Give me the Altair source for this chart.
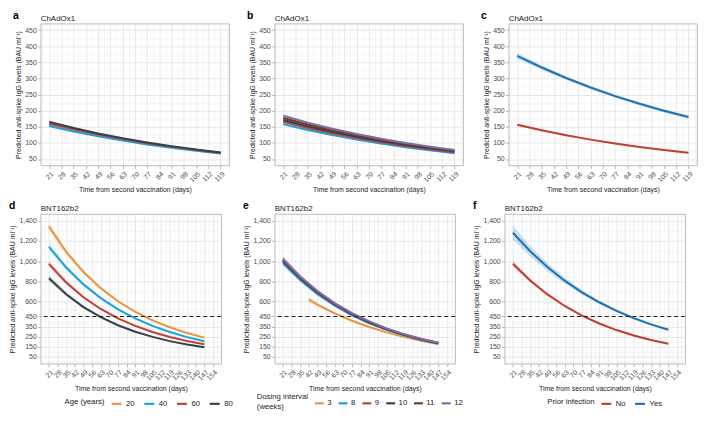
import json
import altair as alt
import pandas as pd

FONT = "Liberation Sans"

# ---------------- data ----------------
days_top = [21, 35, 49, 63, 77, 91, 105, 119]
days_bot = [21, 35, 49, 63, 77, 91, 105, 119, 133, 147]
days_e3 = [42, 49, 63, 77, 91, 105, 119, 133, 147]

x_ticks_top = [21, 28, 35, 42, 49, 56, 63, 70, 77, 84, 91, 98, 105, 112, 119]
x_ticks_bot = [21, 28, 35, 42, 49, 56, 63, 70, 77, 84, 91, 98, 105, 112, 119,
               126, 133, 140, 147, 154]
y_ticks_top = [50, 100, 150, 200, 250, 300, 350, 400, 450]
y_ticks_bot = [50, 150, 250, 350, 450, 600, 800, 1000, 1200, 1400]
threshold = [450]

age_groups = ["20", "40", "60", "80"]
age_colors = ["#E8963F", "#1AA3E0", "#C0413B", "#34434B"]
interval_groups = ["3", "8", "9", "10", "11", "12"]
interval_colors = ["#E8963F", "#1AA3E0", "#C0413B", "#34434B", "#6E4120", "#7B6DAE"]
prior_groups = ["No", "Yes"]
prior_colors = ["#C13E33", "#1D73B6"]

# panel a: ChAdOx1 by age
a_20 = [157, 139.6, 124.1, 110.3, 98.1, 87.2, 77.5, 68.9]
a_40 = [152, 135.2, 120.2, 106.9, 95.1, 84.5, 75.2, 66.9]
a_60 = [160, 141.9, 125.8, 111.6, 98.9, 87.7, 77.8, 69.0]
a_80 = [165, 146.0, 129.2, 114.3, 101.1, 89.4, 79.1, 70.0]
a_ci = [4, 3, 2.5, 2, 2, 2, 2, 2.5]

# panel b: ChAdOx1 by dosing interval
b_8 = [158, 140.1, 124.2, 110.1, 97.6, 86.5, 76.7, 68.0]
b_9 = [165, 146.3, 129.7, 115.0, 102.0, 90.4, 80.1, 71.0]
b_10 = [171, 151.6, 134.4, 119.1, 105.6, 93.6, 83.0, 73.6]
b_11 = [177, 156.9, 139.0, 123.2, 109.2, 96.8, 85.8, 76.0]
b_12 = [184, 162.8, 144.0, 127.4, 112.7, 99.7, 88.2, 78.0]
b_ci = [4, 3, 2.5, 2, 2, 2, 2, 2.5]

# panel c: ChAdOx1 by prior infection
c_no = [156, 138.8, 123.6, 110.0, 97.9, 87.1, 77.5, 69.0]
c_yes = [370, 333.8, 301.2, 271.7, 245.1, 221.2, 199.5, 180.0]
c_no_ci = [3, 2.5, 2, 2, 2, 2, 2, 2]
c_yes_ci = [9, 7, 5.5, 5, 5, 5, 5, 5.5]

# panel d: BNT162b2 by age
d_20 = [1343, 1092.2, 891.8, 731.1, 601.7, 497.1, 412.4, 343.4, 287.1, 241.0]
d_40 = [1142, 936.1, 769.0, 632.9, 521.9, 431.2, 357.0, 296.2, 246.1, 205.0]
d_60 = [972, 787.7, 641.4, 525.0, 431.8, 356.9, 296.4, 247.5, 207.6, 175.0]
d_80 = [830, 670.3, 544.1, 443.8, 363.8, 299.7, 248.1, 206.4, 172.6, 145.0]
d_20_ci = [40, 28, 20, 15, 12, 10, 9, 8, 8, 9]
d_40_ci = [32, 22, 16, 12, 10, 8, 7, 7, 7, 8]
d_60_ci = [28, 19, 14, 11, 9, 7, 6, 6, 6, 7]
d_80_ci = [30, 20, 15, 11, 9, 7, 6, 6, 6, 7]

# panel e: BNT162b2 by dosing interval
e_3 = [618, 568.9, 481.9, 408.2, 345.8, 292.9, 248.1, 210.2, 178.1]
e_8 = [979, 811.6, 672.8, 557.7, 462.3, 383.3, 317.7, 263.4, 218.3, 181.0]
e_9 = [998, 827.6, 686.2, 569.0, 471.8, 391.3, 324.4, 269.0, 223.1, 185.0]
e_10 = [1004, 832.5, 690.3, 572.4, 474.6, 393.5, 326.3, 270.6, 224.4, 186.0]
e_11 = [1012, 839.4, 696.2, 577.5, 479.0, 397.3, 329.5, 273.3, 226.7, 188.0]
e_12 = [1022, 847.7, 703.2, 583.3, 483.8, 401.3, 332.9, 276.1, 229.1, 190.0]
e_3_ci = [25, 18, 12, 9, 7, 6, 6, 6, 7]
e_ci = [30, 20, 14, 10, 8, 7, 6, 6, 6, 7]

# panel f: BNT162b2 by prior infection
f_no = [974, 807.4, 669.3, 554.8, 459.9, 381.2, 316.0, 262.0, 217.2, 180.0]
f_yes = [1281, 1097.6, 940.5, 805.9, 690.5, 591.7, 507.0, 434.4, 372.2, 318.9]
f_no_ci = [30, 20, 14, 11, 9, 8, 7, 7, 7, 8]
f_yes_ci = [70, 52, 38, 28, 22, 18, 15, 13, 12, 12]

Y_TITLE = "Predicted anti-spike IgG levels (BAU ml\u207b\u00b9)"
X_TITLE = "Time from second vaccination (days)"


def build(series):
    rows = []
    for grp, days, vals, ci in series:
        for d, v, c in zip(days, vals, ci):
            rows.append({"day": d, "value": v, "lo": v - c, "hi": v + c, "group": grp})
    return pd.DataFrame(rows)


def minor_of(ticks, lo, hi):
    ext = [2 * ticks[0] - ticks[1]] + ticks + [2 * ticks[-1] - ticks[-2]]
    mids = [(ext[i] + ext[i + 1]) / 2 for i in range(len(ext) - 1)]
    return [m for m in mids if lo <= m <= hi]


def make_axis(ticks, dom, title, fmt, angle):
    test = "indexof(%s, datum.value) >= 0" % json.dumps(ticks)
    vals = sorted(ticks + minor_of(ticks, dom[0], dom[1]))
    return alt.Axis(
        values=vals, title=title, format=fmt, labelAngle=angle,
        labelExpr="%s ? datum.label : ''" % test,
        labelOverlap=False, labelFlush=False,
        gridColor={"condition": {"test": test, "value": "#dedede"}, "value": "#ececec"},
        gridWidth={"condition": {"test": test, "value": 0.7}, "value": 0.5},
        tickOpacity={"condition": {"test": test, "value": 1}, "value": 0},
    )


def panel(df, groups, colors, letter, title, x_ticks, x_dom, y_ticks, y_dom, w, h,
          letter_dx, legend_title=None, legend_x=0, compact=False, thresh=False):
    xenc = alt.X("day:Q", scale=alt.Scale(domain=x_dom, nice=False, zero=False),
                 axis=make_axis(x_ticks, x_dom, X_TITLE, "d", 315))
    yaxis = make_axis(y_ticks, y_dom, Y_TITLE, ",d", 0)
    yscale = alt.Scale(domain=y_dom, nice=False, zero=False)
    if legend_title is not None:
        leg = alt.Legend(title=legend_title, orient="none", direction="horizontal",
                         titleOrient="left", legendX=legend_x, legendY=h + 34,
                         titleAnchor="middle", titleBaseline="middle",
                         symbolSize=81 if compact else 100,
                         columnPadding=2 if compact else 5,
                         labelOffset=2 if compact else 3, titlePadding=5,
                         gridAlign="none", symbolType="stroke", symbolStrokeWidth=2.2)
    else:
        leg = None
    base = alt.Chart(df)
    band = base.mark_area(opacity=0.22).encode(
        x=xenc,
        y=alt.Y("lo:Q", scale=yscale, axis=yaxis),
        y2="hi:Q",
        fill=alt.Fill("group:N", scale=alt.Scale(domain=groups, range=colors),
                      sort=groups, legend=None),
        detail="group:N",
    )
    line = base.mark_line(strokeWidth=2).encode(
        x=xenc,
        y=alt.Y("value:Q", scale=yscale, axis=yaxis),
        color=alt.Color("group:N", scale=alt.Scale(domain=groups, range=colors),
                        sort=groups, legend=leg),
    )
    layers = [band, line]
    if thresh:
        rule = alt.Chart(pd.DataFrame({"t": threshold})).mark_rule(
            color="#222", strokeDash=[4, 3], strokeWidth=1.1
        ).encode(y=alt.Y("t:Q", scale=yscale, axis=yaxis))
        layers.append(rule)
    lab = alt.Chart(pd.DataFrame({"t": [letter]})).mark_text(
        align="left", baseline="alphabetic", fontWeight="bold", fontSize=10.5, font=FONT,
        color="#000"
    ).encode(text="t:N", x=alt.value(letter_dx), y=alt.value(-5))
    ttl = alt.Chart(pd.DataFrame({"t": [title]})).mark_text(
        align="left", baseline="alphabetic", fontSize=8, font=FONT, color="#222"
    ).encode(text="t:N", x=alt.value(0), y=alt.value(-3))
    layers += [lab, ttl]
    return alt.layer(*layers).properties(width=w, height=h).resolve_scale(
        color="independent", fill="independent")


XT_DOM = [16.1, 123.9]
XB_DOM = [14.35, 160.65]
YT_DOM = [30, 470]
YB_DOM = [-17.5, 1467.5]
WT, HT = 190, 143
WB, HB = 182, 151

dfa = build([("20", days_top, a_20, a_ci), ("40", days_top, a_40, a_ci),
             ("60", days_top, a_60, a_ci), ("80", days_top, a_80, a_ci)])
dfb = build([("8", days_top, b_8, b_ci), ("9", days_top, b_9, b_ci),
             ("10", days_top, b_10, b_ci), ("11", days_top, b_11, b_ci),
             ("12", days_top, b_12, b_ci)])
dfc = build([("No", days_top, c_no, c_no_ci), ("Yes", days_top, c_yes, c_yes_ci)])
dfd = build([("20", days_bot, d_20, d_20_ci), ("40", days_bot, d_40, d_40_ci),
             ("60", days_bot, d_60, d_60_ci), ("80", days_bot, d_80, d_80_ci)])
dfe = build([("3", days_e3, e_3, e_3_ci), ("8", days_bot, e_8, e_ci),
             ("9", days_bot, e_9, e_ci), ("10", days_bot, e_10, e_ci),
             ("11", days_bot, e_11, e_ci), ("12", days_bot, e_12, e_ci)])
dff = build([("No", days_bot, f_no, f_no_ci), ("Yes", days_bot, f_yes, f_yes_ci)])

pa = panel(dfa, age_groups, age_colors, "a", "ChAdOx1", x_ticks_top, XT_DOM, y_ticks_top, YT_DOM, WT, HT, -28)
pb = panel(dfb, interval_groups, interval_colors, "b", "ChAdOx1", x_ticks_top, XT_DOM, y_ticks_top, YT_DOM, WT, HT, -28)
pc = panel(dfc, prior_groups, prior_colors, "c", "ChAdOx1", x_ticks_top, XT_DOM, y_ticks_top, YT_DOM, WT, HT, -28)
pd_ = panel(dfd, age_groups, age_colors, "d", "BNT162b2", x_ticks_bot, XB_DOM, y_ticks_bot, YB_DOM, WB, HB, -32,
            legend_title="Age (years)", legend_x=24, thresh=True)
pe = panel(dfe, interval_groups, interval_colors, "e", "BNT162b2", x_ticks_bot, XB_DOM, y_ticks_bot, YB_DOM, WB, HB, -32,
           legend_title=["Dosing interval", "(weeks)"], legend_x=-18, compact=True, thresh=True)
pf = panel(dff, prior_groups, prior_colors, "f", "BNT162b2", x_ticks_bot, XB_DOM, y_ticks_bot, YB_DOM, WB, HB, -32,
           legend_title="Prior infection", legend_x=43, thresh=True)

top = alt.hconcat(pa, pb, pc, spacing=14).resolve_scale(color="independent", fill="independent")
bot = alt.hconcat(pd_, pe, pf, spacing=8).resolve_scale(color="independent", fill="independent")

chart = alt.vconcat(top, bot, spacing=6).resolve_scale(
    color="independent", fill="independent"
).properties(padding=0).configure(font=FONT).configure_view(
    stroke="#a8a8a8", strokeWidth=0.8
).configure_axis(
    domain=False, tickColor="#b3b3b3", tickSize=3, labelColor="#4d4d4d", labelFontSize=7,
    titleFontSize=7, titleFontWeight="normal", titleColor="#222", labelFont=FONT,
    titleFont=FONT, labelPadding=1.5, titlePadding=3,
).configure_legend(
    labelFontSize=7.8, titleFontSize=7.8, titleFontWeight="normal", labelFont=FONT,
    titleFont=FONT, labelColor="#222", titleColor="#222",
)

chart.save("out.html", embed_options={"renderer": "svg", "actions": False})
